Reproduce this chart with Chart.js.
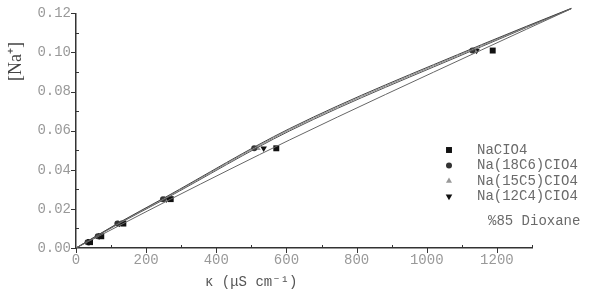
<!DOCTYPE html>
<html>
<head>
<meta charset="utf-8">
<script src="https://cdn.jsdelivr.net/npm/chart.js@4/dist/chart.umd.min.js"></script>
<style>
  html, body { margin: 0; padding: 0; background: #fff; }
  #wrap { width: 591px; height: 291px; }
</style>
</head>
<body>
<div id="wrap"><canvas id="naChart" width="591" height="291"></canvas></div>
<script>
// measured points (conductivity vs concentration)
const conc = [0.003, 0.006, 0.0125, 0.025, 0.051, 0.101];
const kNaClO4 = [40, 72, 135, 270, 571, 1188];
const k18C6 = [33, 62, 118, 248, 508, 1130];
const k15C5 = [35, 64, 120, 252, 518, 1136];
const k12C4 = [37, 66, 124, 258, 535, 1142];

// fitted curves
const fitNaX = [0, 140, 270, 608, 1156, 1412];
const fitNaY = [0, 0.013, 0.025, 0.0552, 0.1013, 0.1224];
const fitX = [0, 120, 250, 608, 1156, 1412];
const fit18C6 = [0, 0.0127, 0.0255, 0.0610, 0.1040, 0.1226];
const fit15C5 = [0, 0.0125, 0.0251, 0.0604, 0.1035, 0.1225];
const fit12C4 = [0, 0.0122, 0.0247, 0.0598, 0.1030, 0.1224];

const labels = ['NaClO4', 'Na(18C6)ClO4', 'Na(15C5)ClO4', 'Na(12C4)ClO4'];
const legendText = ['NaCIO4', 'Na(18C6)CIO4', 'Na(15C5)CIO4', 'Na(12C4)CIO4'];
const note = '%85 Dioxane';

const pts = (xs, ys) => xs.map((x, i) => ({ x: x, y: ys[i] }));

const markers = [
    { pointStyle: 'rect', radius: 4.2, rotation: 0, color: '#111' },
    { pointStyle: 'circle', radius: 3, rotation: 0, color: '#333' },
    { pointStyle: 'triangle', radius: 3.5, rotation: 0, color: '#999' },
    { pointStyle: 'triangle', radius: 3.8, rotation: 180, color: '#111' }
];

function fitLine(data, color) {
    return {
        type: 'line',
        data: data,
        borderColor: color,
        borderWidth: 1,
        pointRadius: 0,
        cubicInterpolationMode: 'monotone',
        clip: false,
        fill: false
    };
}

function scatterSet(label, xs, m) {
    return {
        type: 'scatter',
        label: label,
        data: pts(xs, conc),
        pointStyle: m.pointStyle,
        pointRadius: m.radius,
        pointRotation: m.rotation,
        backgroundColor: m.color,
        borderColor: m.color,
        borderWidth: 0,
        clip: false
    };
}

const mono = '"Liberation Mono", "DejaVu Sans Mono", monospace';

// axis ticks: majors outside, minors inside
const tickMarks = {
    id: 'tickMarks',
    afterDraw(chart) {
        const ctx = chart.ctx;
        const xs = chart.scales.x, ys = chart.scales.y;
        ctx.save();
        ctx.strokeStyle = '#333';
        ctx.lineWidth = 1;
        ctx.beginPath();
        ys.ticks.forEach((t, i) => {
            const y = Math.round(ys.getPixelForValue(t.value)) + 0.5;
            const x = ys.right;
            if (i % 2 === 0) { ctx.moveTo(x - 5, y); ctx.lineTo(x, y); }
            else { ctx.moveTo(x, y); ctx.lineTo(x + 3, y); }
        });
        xs.ticks.forEach((t, i) => {
            const x = Math.round(xs.getPixelForValue(t.value)) + 0.5;
            const y = xs.top;
            if (i % 2 === 0) { ctx.moveTo(x, y); ctx.lineTo(x, y + 5); }
            else { ctx.moveTo(x, y); ctx.lineTo(x, y - 3); }
        });
        ctx.stroke();

        // axis titles
        ctx.fillStyle = '#555';
        ctx.font = '14px ' + mono;
        ctx.textBaseline = 'alphabetic';
        ctx.textAlign = 'left';
        ctx.fillText('\u03ba (\u03bcS cm\u207b\u00b9)', chart.chartArea.left + 129, 286);

        ctx.translate(21, chart.chartArea.top + 48);
        ctx.rotate(-Math.PI / 2);
        ctx.textAlign = 'center';
        ctx.fillStyle = '#444';
        ctx.font = '18px "Liberation Serif", serif';
        ctx.fillText('[Na\u207a]', 0, 0);
        ctx.restore();
    }
};

// legend box inside the plot, lower right
const innerLegend = {
    id: 'innerLegend',
    afterDraw(chart) {
        const ctx = chart.ctx;
        const mx = chart.chartArea.right - 83;
        const tx = chart.chartArea.right - 55;
        const y0 = 150;
        ctx.save();
        ctx.font = '14px ' + mono;
        ctx.textBaseline = 'middle';
        ctx.textAlign = 'left';
        legendText.forEach((txt, i) => {
            const y = y0 + i * 15.5;
            const m = markers[i];
            ctx.fillStyle = m.color;
            ctx.strokeStyle = m.color;
            Chart.helpers.drawPoint(ctx, {
                pointStyle: m.pointStyle, radius: m.radius,
                rotation: m.rotation, borderWidth: 0
            }, mx, y);
            ctx.fillStyle = '#6a6a6a';
            ctx.fillText(txt, tx, y);
        });
        ctx.fillStyle = '#6a6a6a';
        ctx.fillText(note, tx + 11, 221);
        ctx.restore();
    }
};

new Chart(document.getElementById('naChart').getContext('2d'), {
    data: {
        datasets: [
            fitLine(pts(fitNaX, fitNaY), '#666'),
            fitLine(pts(fitX, fit18C6), '#444'),
            fitLine(pts(fitX, fit15C5), '#888'),
            fitLine(pts(fitX, fit12C4), '#555'),
            scatterSet(labels[0], kNaClO4, markers[0]),
            scatterSet(labels[1], k18C6, markers[1]),
            scatterSet(labels[2], k15C5, markers[2]),
            scatterSet(labels[3], k12C4, markers[3])
        ]
    },
    options: {
        responsive: false,
        animation: false,
        layout: {
            padding: { top: 11, right: 59, left: 0, bottom: 0 }
        },
        plugins: {
            legend: { display: false },
            tooltip: { enabled: false }
        },
        scales: {
            x: {
                type: 'linear',
                min: 0,
                max: 1300,
                afterFit: (s) => { s.height = 43; },
                ticks: {
                    stepSize: 100,
                    color: '#999',
                    padding: 4,
                    maxRotation: 0,
                    autoSkip: false,
                    font: { family: mono, size: 14 },
                    callback: (v, i) => (i % 2 === 0 ? String(v) : '')
                },
                grid: { display: false, drawTicks: false },
                border: { display: true, color: '#333', width: 1.5 }
            },
            y: {
                type: 'linear',
                min: 0,
                max: 0.12,
                afterFit: (s) => { s.width = 76; },
                ticks: {
                    stepSize: 0.01,
                    color: '#999',
                    padding: 5,
                    autoSkip: false,
                    font: { family: mono, size: 14 },
                    callback: (v, i) => (i % 2 === 0 ? v.toFixed(2) : '')
                },
                grid: { display: false, drawTicks: false },
                border: { display: true, color: '#333', width: 1.5 }
            }
        }
    },
    plugins: [tickMarks, innerLegend]
});
</script>
</body>
</html>
